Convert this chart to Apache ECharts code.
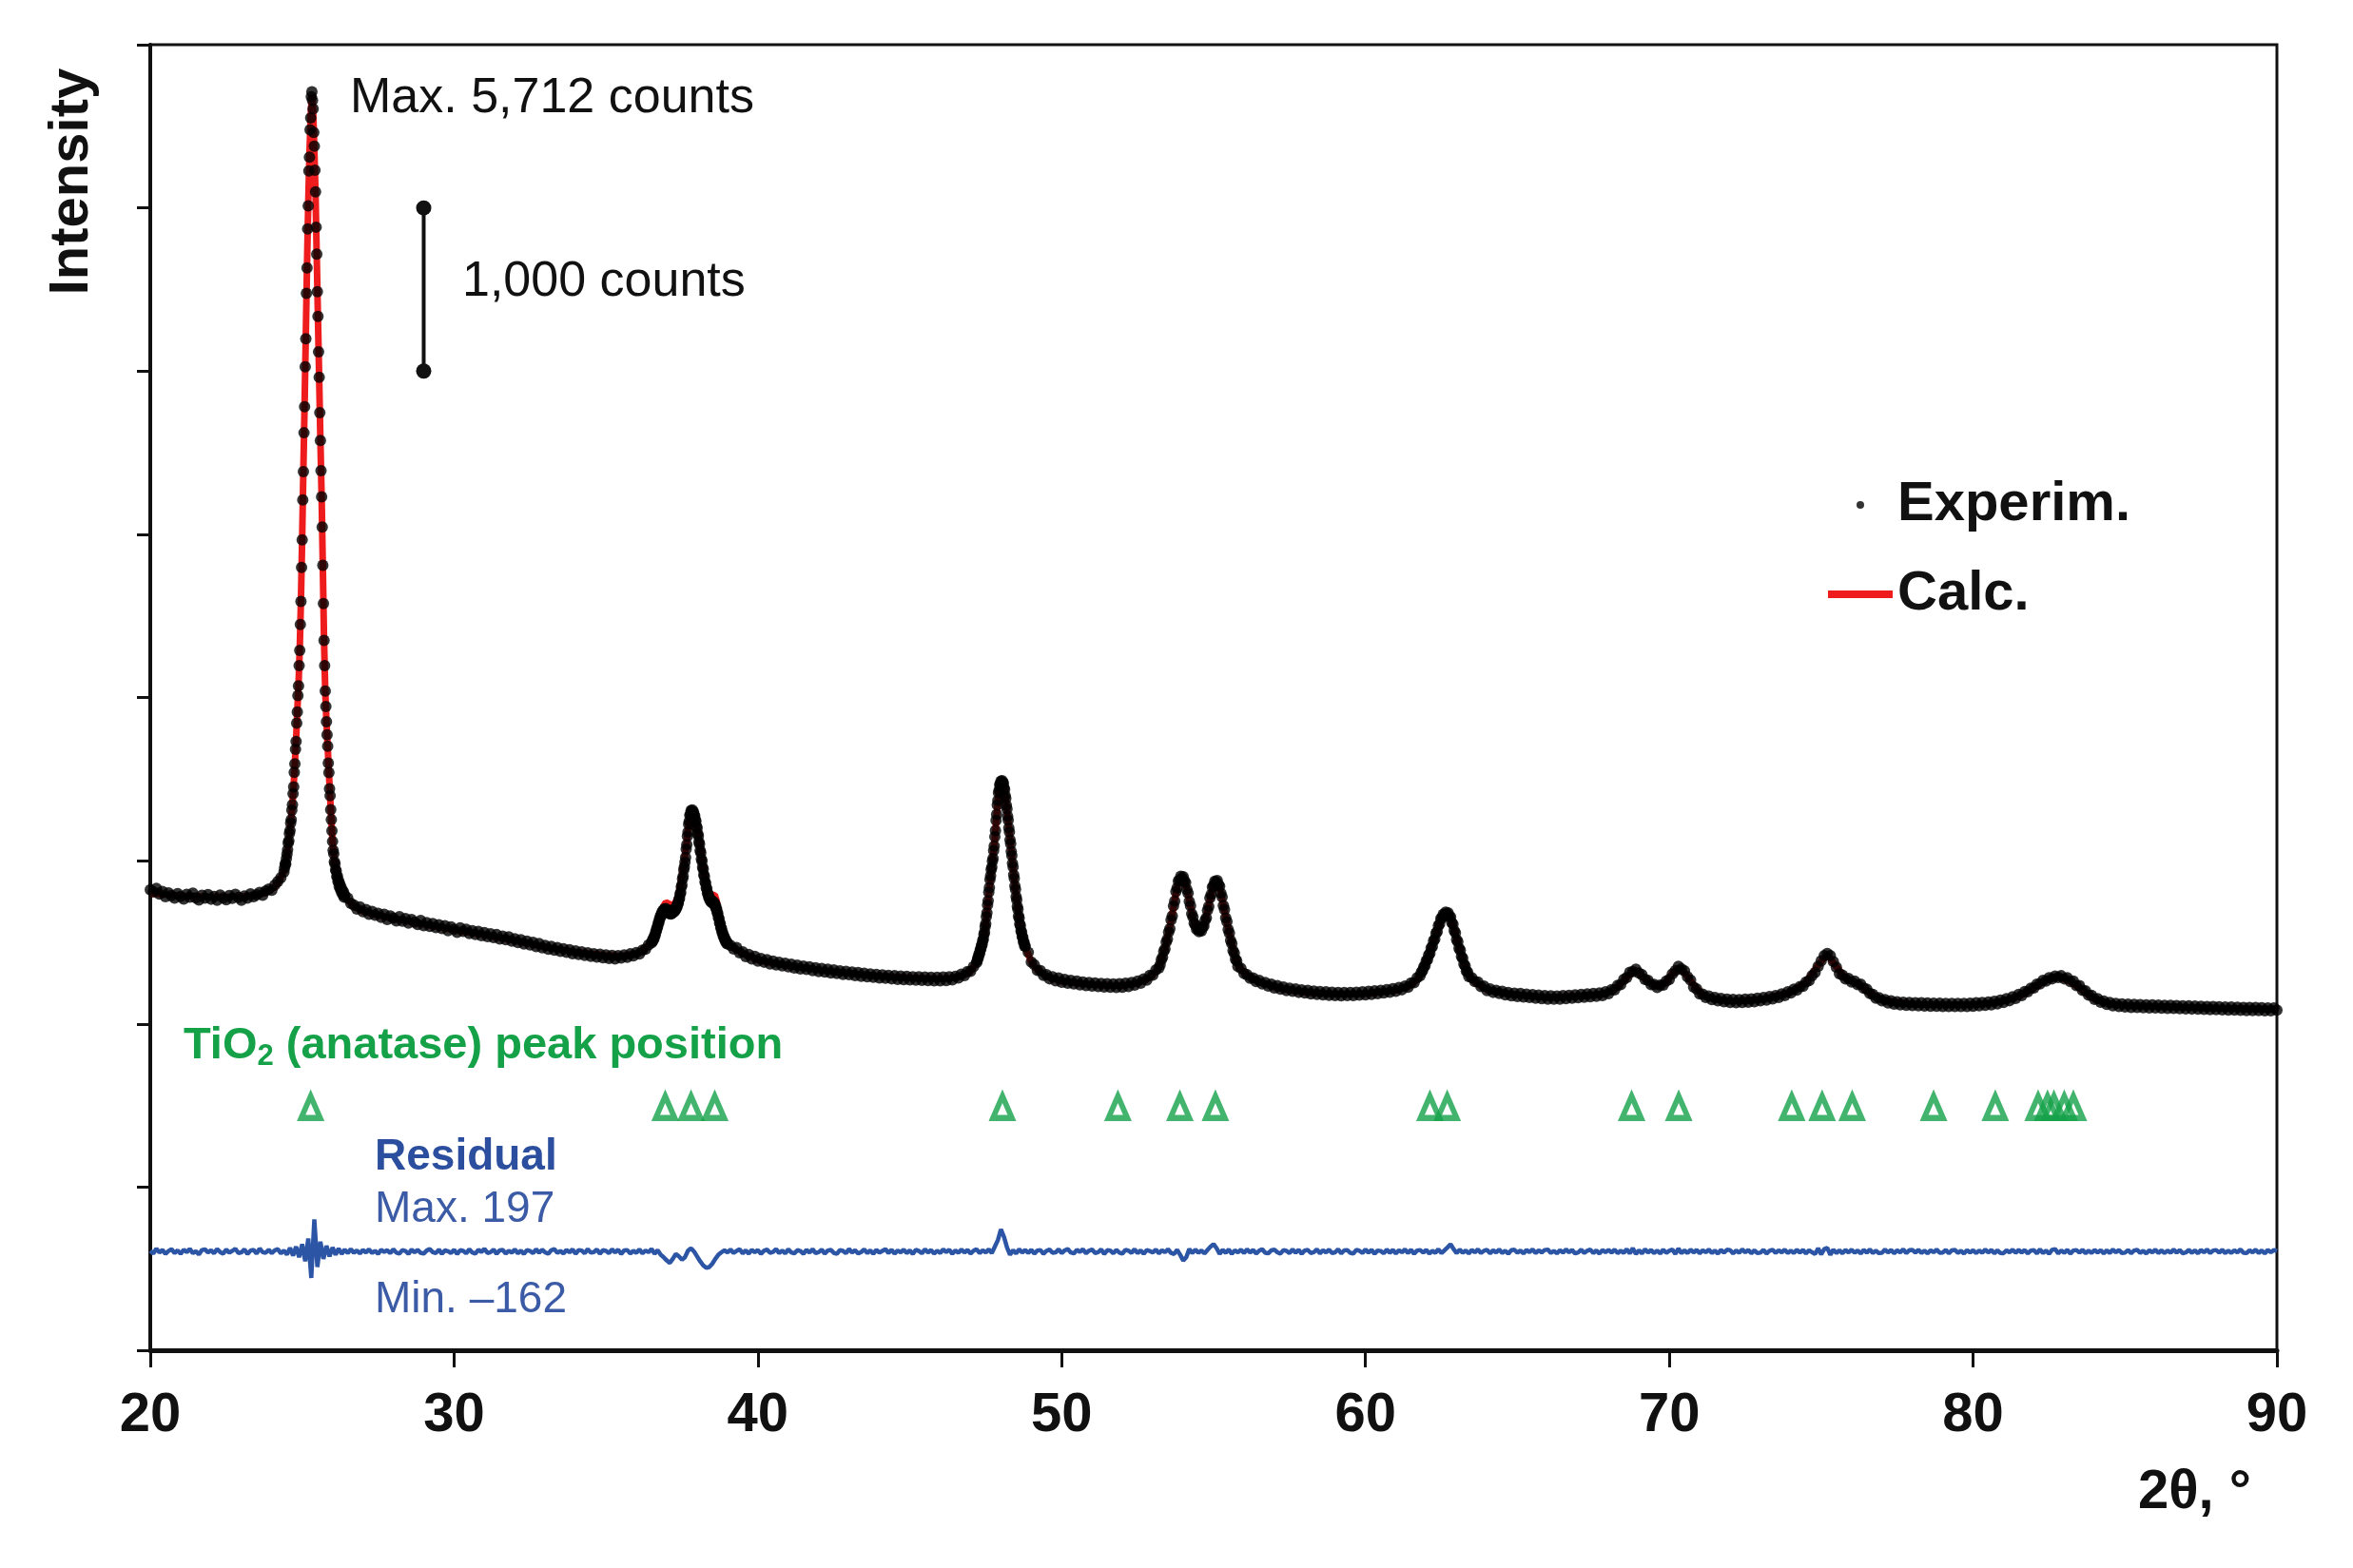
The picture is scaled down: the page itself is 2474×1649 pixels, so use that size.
<!DOCTYPE html>
<html>
<head>
<meta charset="utf-8">
<script src="https://cdn.jsdelivr.net/npm/echarts@6.0.0/dist/echarts.min.js"></script>
<style>html,body{margin:0;padding:0;background:#fff;}#main{width:2474px;height:1649px;}</style>
</head>
<body>
<div id="main"></div>
<script>
// ---------------- DATA ----------------
// Experimental intensity (counts) in measured blocks: [start 2θ, step, counts]
const expA = [822,808,831,795,812,779,803,786,770,798,781,765,794,776,801,772,759,788,770,793,764,781,757,790,772,760,787,769,794,775,758,784,770,797,779,791,806,788,815,826,818,851,872,896,931];
const expB = [955,981,979,1012,1040,1066,1108,1122,1167,1185,1231,1252,1309,1343,1410,1452,1541,1593,1682,1731,1842,1911,2012,2071,2195,2288,2447,2589,2797,2966,3211,3384,3622,3781,4026,4198,4476,4632,4871,5012,5226,5311,5478,5552,5681,5712,5659,5607,5462,5378,5231,5098,4882,4717,4486,4335,4118,3962,3745,3575,3390,3230,3045,2810,2575,2350,2195,2040,1945,1852,1771,1702,1598,1540,1441,1398,1312,1251,1183,1118,1064,1042,994,981,942,938,902,906,871,877,842,856,825,838,806,819,791,808,776,790];
const expC = [771,738,729,704,716,687,701,672,689,665,678,652,671,640,662,648,631,657,629,645,618,640,623,609,634,602,621,597,615,590,608,584,602,571,594,579,561,588,566,580,553,571,548,567,541,559,535,552,529,547,520,538,515,533,507,521,498,516,490,507,483,499,474,492,466,481,458,475,452,468,444,461,439,455,430,447,425,441,419,436,414,430,409,427,405,423,401,420,398,418,403,422,408,429,416,437,428,451,458,484,497];
const expD = [509,507,524,522,541,545,566,569,590,594,617,621,642,647,665,666,683,681,695,689,703,694,706,695,702,689,695,680,688,674,685,673,686,677,690,684,698,691,706,702,718,716,736,739,762,768,796,805,839,851,889,905,944,962,991,1019,1071,1098,1151,1176,1224,1241,1279,1283,1306,1299,1311,1295,1300,1278,1276,1249,1243,1210,1201,1165,1152,1114,1101,1062,1049,1010,998,960,948,913,903,870,862,833,827,801,797,776,775,757,761,747,754,742,750,737,743,727,729,708,707,682,678,651,646,619,614,589,585,562,560,539,539,520,522,504,507,491,494];
const expE = [481,459,468,436,441,412,425,398,414,384,401,378,393,367,385,361,377,356,371,349,366,343,360,337,354,333,349,326,344,321,340,318,335,312,331,309,325,303,322,301,318,296,314,291,310,288,306,285,303,281,300,279,297,276,295,273,293,271,291,269,289,268,288,266,287,265,286,264,286,263,287,265,289,270,292,281,304,296,321,322,351,376];
const expF = [388,404,409,428,434,455,459,481,486,510,518,548,561,596,613,657,680,729,755,807,835,884,907,946,960,996,1014,1062,1089,1147,1184,1247,1284,1341,1369,1416,1432,1466,1468,1487,1480,1490,1476,1475,1446,1436,1398,1381,1338,1317,1271,1248,1200,1176,1128,1104,1056,1032,984,961,914,891,845,824,780,761,719,702,662,648,612,602,570,563,534,530,503,501,476,476];
const expG = [438,379,362,328,326,297,301,276,289,264,281,255,272,249,266,244,262,239,257,235,254,232,251,228,248,226,246,224,245,223,246,225,249,229,254,237,262,249,276,268,297,298,330,343];
const expH = [362,393,408,445,459,501,518,563,583,636,662,722,752,810,833,875,880,904,893,902,876,866,823,801,750,724,675,656,616,608,580,583,565,578,570,594,598,634,650,697,720,772,793,837,846,874,868,879,853,844,801,778,726,700,649,626,578,557,511,492,449,434,396,386,353];
const expI = [341,309,302,279,281,259,267,244,254,231,243,220,234,212,226,204,219,199,214,193,209,189,205,184,201,181,198,177,196,175,194,173,193,172,192,173,193,174,194,176,196,178,199,181,202,185,206,189,210,194,216,200,223,209,232,225,251,252,282,296];
const expJ = [318,326,350,357,386,393,423,431,465,474,509,519,555,565,602,612,645,648,672,668,684,672,680,657,655,621,611,571,558,516,503,463,451,412,402,366,356,324,318,290];
const expK = [283,259,256,229,231,204,214,193,206,186,199,178,192,172,188,168,186,164,182,161,179,157,176,154,174,152,172,151,171,152,173,154,175,157,178,160,181,163,184,166,186,169,190,174,196,185,210,208,236,240,272,284,316,320,335,312,301,272,266,240,242,223,238,238,262,272,306,326,352,337,325,288,268,226,214,184,182,161,170,149,162,141,156,135,152,131,150,130,149,131,151,133,153,136,157,141,161,146,167,153,174,162,184,174,197,190,212,207,228,230,257,265,296,315,352,386,418,431,418,381,347,308,298,275,278,257,262,241,243,218,212,186,180,158,160,141,149,128,141,121,136,117,133,114,131,112,130,110,129,109,128,108,127,108,127,107,126,106,126,106,126,106,126,107,127,108,129,110,131,113,134,117,139,123,146,131,155,142,166,156,180,173,198,196,219,220,243,244,266,262,283,276,293,284,295,276,283,259,262,235,234,206,203,176,175,150,154,132,140,119,131,111,126,106,123,103,121,101,119,100,118,99,117,98,116,97,115,96,114,95,113,94,112,93,111,92,110,91,109,90,108,89,107,88,106,87,105,86,104,85,103,84,102,83,101,82,100,82,100,81,99,80,98,80,97,85];
const expBlocks = [[20.0,0.1,expA],[24.42,0.02,expB],[26.5,0.1,expC],[36.52,0.02,expD],[39.1,0.1,expE],[47.22,0.02,expF],[48.9,0.1,expG],[53.24,0.04,expH],[55.9,0.1,expI],[61.84,0.04,expJ],[63.5,0.1,expK]];

// Calculated profile (2θ, counts)
const calcCurve = [[20,800],[21,785],[22,778],[23,780],[23.5,788],[23.8,805],[24.0,825],[24.2,860],[24.4,935],[24.48,1010],[24.52,1070],[24.56,1130],[24.6,1190],[24.64,1260],[24.68,1350],[24.72,1460],[24.76,1600],[24.8,1740],[24.84,1920],[24.88,2080],[24.92,2300],[24.96,2600],[25.0,2980],[25.04,3400],[25.08,3800],[25.12,4220],[25.16,4650],[25.2,5030],[25.24,5330],[25.28,5560],[25.32,5690],[25.36,5600],[25.4,5360],[25.44,5080],[25.48,4700],[25.52,4320],[25.56,3950],[25.6,3580],[25.64,3230],[25.68,2800],[25.72,2350],[25.76,2040],[25.8,1850],[25.84,1700],[25.88,1540],[25.92,1390],[25.96,1250],[26.0,1115],[26.04,1040],[26.08,980],[26.12,935],[26.16,900],[26.2,870],[26.28,830],[26.36,800],[26.5,760],[26.7,720],[27,690],[27.5,665],[28,645],[29,610],[30,575],[31,545],[32,510],[33,470],[34,440],[35,420],[35.5,415],[36,430],[36.3,460],[36.5,505],[36.6,540],[36.7,600],[36.8,670],[36.9,725],[36.97,745],[37.05,738],[37.15,728],[37.25,735],[37.35,765],[37.45,850],[37.55,960],[37.65,1100],[37.72,1225],[37.78,1285],[37.84,1305],[37.9,1285],[37.96,1240],[38.02,1170],[38.1,1075],[38.2,950],[38.3,850],[38.4,800],[38.5,790],[38.58,790],[38.64,755],[38.7,690],[38.8,600],[38.9,530],[39.0,495],[39.2,465],[39.5,432],[40,390],[41,355],[42,330],[43,310],[44,293],[45,282],[46,276],[46.5,283],[46.8,300],[47.0,322],[47.2,380],[47.4,505],[47.5,610],[47.6,795],[47.7,960],[47.8,1135],[47.86,1285],[47.92,1410],[47.98,1470],[48.03,1475],[48.08,1465],[48.14,1400],[48.2,1310],[48.3,1130],[48.4,955],[48.5,780],[48.6,645],[48.7,535],[48.8,470],[48.9,425],[49.0,380],[49.2,330],[49.5,292],[50,260],[51,240],[52,233],[52.5,250],[52.8,272],[53.0,300],[53.2,345],[53.4,460],[53.6,630],[53.8,840],[53.9,888],[54.0,900],[54.1,845],[54.2,757],[54.3,665],[54.4,605],[54.5,572],[54.6,575],[54.7,615],[54.8,690],[54.9,780],[55.0,850],[55.08,875],[55.16,858],[55.24,805],[55.32,730],[55.4,655],[55.5,570],[55.6,490],[55.7,415],[55.8,360],[56,315],[56.3,275],[56.7,245],[57,225],[57.5,205],[58,193],[59,182],[60,185],[61,205],[61.4,228],[61.7,270],[61.9,335],[62.1,425],[62.3,540],[62.5,645],[62.66,680],[62.8,650],[63.0,520],[63.2,395],[63.4,295],[63.6,255],[64,210],[65,176],[66,162],[67,170],[67.8,180],[68.2,210],[68.5,265],[68.8,320],[68.95,325],[69.2,275],[69.6,232],[69.9,255],[70.15,320],[70.35,345],[70.6,290],[70.9,215],[71.2,165],[71.6,148],[72,140],[73,148],[74,195],[74.5,255],[74.9,360],[75.2,425],[75.5,350],[75.8,280],[76.2,245],[76.6,190],[77,148],[78,120],[79,116],[80,117],[80.5,125],[81,140],[81.5,168],[82,220],[82.4,265],[82.8,288],[83.2,260],[83.6,205],[84,150],[84.5,123],[85,112],[86,106],[88,96],[90,90]];

// Residual (counts), 2θ = 20.0 ... 90.0 step 0.1
const residual = [
5,-12,18,-6,10,-15,3,14,-9,7, -14,11,-4,16,-10,2,-17,9,13,-6, 8,-11,15,-3,-13,12,-7,4,17,-9, -5,13,-15,6,10,-12,18,-4,-8,11,
-10,8,14,-12,6,-18,22,-25,30,-35, 45,-60,80,-162,197,-95,60,-45,35,-30, 25,-20,18,-15,12,-10,15,-8,6,-12, 10,-6,13,-9,4,-14,11,-3,8,-10,
14,-7,-12,9,3,-15,12,-5,10,-8, -13,6,15,-4,-10,12,-14,7,2,-9, 11,-15,8,4,-11,14,-6,-13,10,-3, 16,-9,-4,12,-14,7,10,-12,5,-7,
13,-11,6,-15,9,3,-10,14,-8,11, -6,-13,8,15,-9,4,-12,10,-5,13, -14,9,6,-11,15,-7,-3,12,-13,8, 4,-10,14,-6,11,-15,7,9,-12,5,
-8,13,-11,6,-4,15,-13,8,-20,-35, -55,-70,-45,-15,-30,-50,-35,5,20,0, -30,-60,-85,-100,-95,-75,-45,-20,-5,8, -6,12,-9,4,14,-11,7,-13,10,-4,
9,-14,5,12,-8,-3,15,-10,6,-12, 13,-5,-11,8,3,-14,11,-7,14,-9, -4,12,-13,6,10,-8,-15,9,4,-11, 15,-6,8,-12,-3,13,-10,7,-14,11,
-7,4,14,-9,11,-13,6,-5,12,-10, 8,-15,10,3,-11,14,-6,9,-13,5, -9,13,-4,11,-14,7,-8,12,-6,10, -12,5,14,-10,8,-6,13,-9,30,70,
136,90,25,-20,8,-12,14,-6,10,-9, 11,-13,6,9,-14,4,12,-8,-5,13, -10,7,15,-6,-12,10,-3,14,-11,5, 12,-9,-4,13,-15,8,6,-11,10,-7,
-13,11,4,-8,14,-10,7,-14,9,3, -6,12,-11,8,-4,14,-9,-15,10,-20, -55,-35,15,-10,12,-8,6,-12,10,30, 45,20,-15,10,-8,12,-14,7,-5,11,
-9,13,-6,10,-12,5,14,-8,-11,7, 12,-5,-13,9,4,-10,13,-7,11,-14, 6,10,-9,-4,13,-11,8,-6,12,-10, -5,14,-12,7,9,-8,-13,11,4,-9,
13,-7,10,-14,6,3,-11,12,-8,10, -12,8,-5,13,-9,11,-14,6,9,-7, 11,-13,5,-8,14,-10,7,25,45,15, -10,12,-8,6,-12,10,-5,13,-9,4,
10,-11,7,-6,12,-9,5,-13,8,11, -8,6,-12,10,-4,13,-10,7,-6,9, 12,-9,4,-11,8,-7,13,-5,10,-12, -6,11,-9,5,12,-10,7,-13,9,-4,
10,-7,12,-10,5,-8,14,-12,20,-15, 8,-11,13,-6,9,-10,6,-12,11,-8, 5,12,-14,18,-10,7,-9,11,-6,10, -11,8,-5,12,-9,6,-13,10,-7,11,
9,-12,6,-8,13,-5,10,-11,7,-9, -7,10,-12,5,11,-9,8,-6,12,-10, 6,-9,11,-7,10,-12,8,-5,-15,20, -18,15,22,-20,12,-10,8,-11,9,-6,
11,-8,6,-12,10,-7,13,-9,5,-10, -8,12,-6,9,-11,7,-5,13,-10,8, 10,-7,11,-9,6,-12,8,-5,12,-8, -6,9,-11,7,10,-8,5,-12,9,-7,
8,-10,6,-8,12,-6,9,-11,7,-9, -10,7,-5,11,-8,10,-6,9,-12,6, 8,-11,13,-9,6,-14,10,15,-12,7, -8,10,-13,6,9,-7,11,-10,5,-9,
10,-6,8,-11,7,-9,12,-5,9,-10, -7,9,-11,6,10,-8,5,-12,8,-6, 11,-9,7,-10,6,-8,12,-7,9,-11, -6,10,-8,7,-11,9,-5,12,-9,6,
9,-7,11,-10,6,-9,8,-6,13,-8, -10,8,-6,11,-9,7,-12,10,-5,9, 4];
const residualStart = 20.0, residualStep = 0.1;

// TiO2 (anatase) reflection positions, 2θ
const peakPositions = [25.28,36.95,37.80,38.58,48.05,51.85,53.89,55.06,62.12,62.69,68.76,70.31,74.03,75.03,76.02,78.70,80.73,82.14,82.45,82.66,83.00,83.30];

// axis ticks
const xTicks = [20,30,40,50,60,70,80,90];

// vertical offsets used in the stacked plot (display units = counts)
const EXP_OFFSET = 2000;
const RESID_OFFSET = 605;
const MARKER_LEVEL = 1490;
const scaleBarTheta = 29.0;
const scaleBarSpan = [6000, 7000]; // 1,000 counts

// ---------------- BUILD ----------------
const FONT = '"Liberation Sans", Arial, Helvetica, sans-serif';
const expData = [];
expBlocks.forEach(([x0, dx, ys]) => {
  ys.forEach((c, i) => expData.push([+(x0 + i * dx).toFixed(2), c + EXP_OFFSET]));
});
const calcData = calcCurve.map(([t, c]) => [t, c + EXP_OFFSET]);
const residData = residual.map((r, i) => [+(residualStart + i * residualStep).toFixed(2), r + RESID_OFFSET]);
const markerData = peakPositions.map(p => [p, MARKER_LEVEL]);

function label(x, y, text, o) {
  o = o || {};
  return {
    type: 'text', x: x, y: y, rotation: o.rotation || 0, z: 100,
    style: Object.assign({
      text: text, fill: o.color || '#111', fontSize: o.size || 52,
      fontWeight: o.bold ? 'bold' : 'normal', fontFamily: FONT,
      align: o.align || 'left', verticalAlign: 'middle',
      textAlign: o.align || 'left', textVerticalAlign: 'middle'
    }, o.extra || {})
  };
}

const GREEN = '#14a148';
const chart = echarts.init(document.getElementById('main'), null, {renderer: 'canvas', width: 2474, height: 1649});
chart.setOption({
  animation: false,
  backgroundColor: '#ffffff',
  grid: {left: 158, right: 80, top: 47, bottom: 229, show: true, borderColor: '#111', borderWidth: 3, outerBoundsMode: 'none', containLabel: false},
  xAxis: {
    type: 'value', min: xTicks[0], max: xTicks[xTicks.length - 1], interval: 10,
    axisLine: {show: true, lineStyle: {color: '#111', width: 5}},
    axisTick: {show: true, length: 18, lineStyle: {color: '#111', width: 3}},
    axisLabel: {show: true, fontSize: 58, fontWeight: 'bold', color: '#111', fontFamily: FONT, margin: 40},
    splitLine: {show: false}
  },
  yAxis: {
    type: 'value', min: 0, max: 8000, interval: 1000,
    axisLine: {show: true, lineStyle: {color: '#111', width: 4}},
    axisTick: {show: true, length: 14, lineStyle: {color: '#111', width: 3}},
    axisLabel: {show: false},
    splitLine: {show: false}
  },
  legend: {
    left: 1917, top: 497, orient: 'vertical', itemWidth: 68, itemHeight: 8, itemGap: 36,
    selectedMode: false,
    textStyle: {fontSize: 58, fontWeight: 'bold', color: '#111', fontFamily: FONT},
    data: [{name: 'Experim.', icon: 'circle'}, {name: 'Calc.', icon: 'rect'}]
  },
  series: [
    {name: 'Calc.', type: 'line', data: calcData, symbol: 'none', showSymbol: false, color: '#ee1c1c',
     lineStyle: {color: '#ee1c1c', width: 7}, itemStyle: {color: '#ee1c1c'}, z: 2, silent: true},
    {name: 'Experim.', type: 'scatter', data: expData, symbol: 'circle', symbolSize: 12, color: '#000',
     itemStyle: {color: '#000'}, z: 3, silent: true, large: false},
    {name: 'Residual', type: 'line', data: residData, symbol: 'none', showSymbol: false,
     lineStyle: {color: '#2d55a5', width: 4.5}, z: 2, silent: true},
    {name: 'Peaks', type: 'scatter', data: markerData, symbol: 'triangle', symbolSize: [20, 23],
     itemStyle: {color: 'rgba(0,0,0,0)', borderColor: GREEN, borderWidth: 6}, z: 3, silent: true},
    {name: 'Scale', type: 'line', data: [[scaleBarTheta, scaleBarSpan[0]], [scaleBarTheta, scaleBarSpan[1]]],
     symbol: 'circle', symbolSize: 16, lineStyle: {color: '#111', width: 4}, itemStyle: {color: '#111'}, z: 4, silent: true}
  ],
  graphic: [
    label(76, 191, 'Intensity', {bold: true, size: 58, align: 'center', rotation: Math.PI / 2}),
    label(368, 104, 'Max. 5,712 counts', {size: 52}),
    label(486, 297, '1,000 counts', {size: 52}),
    {
      type: 'text', x: 193, y: 1100, z: 100,
      style: {
        text: '{a|TiO}{s|2}{a| (anatase) peak position}',
        fill: GREEN, fontFamily: FONT, fontSize: 47, fontWeight: 'bold',
        align: 'left', verticalAlign: 'middle', textAlign: 'left', textVerticalAlign: 'middle',
        rich: {
          a: {fontSize: 47, fontWeight: 'bold', fill: GREEN, color: GREEN, fontFamily: FONT, lineHeight: 54},
          s: {fontSize: 31, fontWeight: 'bold', fill: GREEN, color: GREEN, fontFamily: FONT, verticalAlign: 'bottom', lineHeight: 54}
        }
      }
    },
    label(394, 1217, 'Residual', {bold: true, size: 46, color: '#2c4e9e'}),
    label(394, 1272, 'Max. 197', {size: 46, color: '#3b5ba6'}),
    label(394, 1367, 'Min. \u2013162', {size: 46, color: '#3b5ba6'}),
    label(2367, 1570, '2\u03b8, \u00b0', {bold: true, size: 58, align: 'right'})
  ]
});
</script>
</body>
</html>
